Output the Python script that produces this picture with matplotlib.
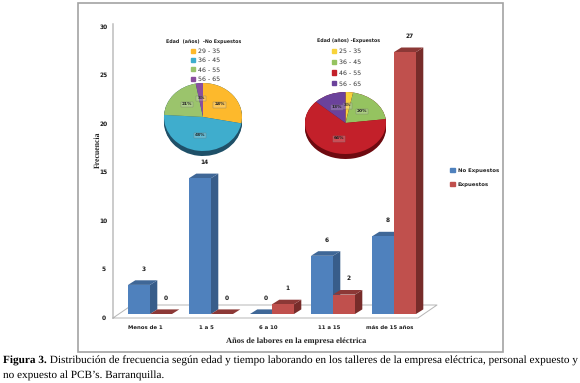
import matplotlib
matplotlib.use('Agg')
import matplotlib.pyplot as plt
from matplotlib.patches import Polygon, Rectangle

plt.rcParams['text.hinting'] = 'no_hinting'

W, H = 580, 383

categorias = ['Menos de 1', '1 a 5', '6 a 10', '11 a 15', 'más de 15 años']
no_expuestos = [3, 14, 0, 6, 8]
expuestos = [0, 0, 1, 2, 27]
y_ticks = [0, 5, 10, 15, 20, 25, 30]

edades_no = ['29 - 35', '36 - 45', '46 - 55', '56 - 65']
pct_no = [28, 48, 21, 3]
edades_exp = ['25 - 35', '36 - 45', '46 - 55', '56 - 65']
pct_exp = [3, 20, 64, 13]

titulo_pie_no = 'Edad  (años)  -No Expuestos'
titulo_pie_exp = 'Edad (años) -Expuestos'
caption_bold = 'Figura 3.'
caption_1 = ' Distribución de frecuencia según edad y tiempo laborando en los talleres de la empresa eléctrica, personal expuesto y'
caption_2 = 'no expuesto al PCB\u2019s. Barranquilla.'

SERIF = 'Liberation Serif'
GRIS = '#bdbdbd'


def px_axes(fig, x0, y0, x1, y1):
    # axes placed from pixel corners, y measured from the top of the image
    return fig.add_axes([x0 / W, 1 - y1 / H, (x1 - x0) / W, (y1 - y0) / H])


fig = plt.figure(figsize=(W / 100, H / 100), dpi=100)
fig.patch.set_facecolor('white')

# marco de la figura
fig.add_artist(Rectangle((78 / W, 1 - 352 / H), (503 - 78) / W, (352 - 3) / H, transform=fig.transFigure,
                         fill=False, edgecolor='#a3a3a3', linewidth=1.2))

# ejes principales: 61 px por categoria, 9.7 px por unidad
ax = px_axes(fig, 100, 14, 450, 330)
ax.set_xlim((100 - 150) / 61, (450 - 150) / 61)
ax.set_ylim(-16 / 9.7, 300 / 9.7)
ax.axis('off')

ux = 1 / 61
uy = 1 / 9.7
ancho = 22 * ux
dx, dy = 7.3 * ux, 4.6 * uy

# piso y pared
fx0, fx1 = (113 - 150) * ux, (418 - 150) * ux
fy = -4 * uy
bx0, bx1 = (132 - 150) * ux, (437 - 150) * ux
by = 9 * uy
ax.plot([fx0, fx0], [fy, 29.9], color=GRIS, lw=1.1)
ax.plot([fx0, bx0, bx1, fx1, fx0], [fy, by, by, fy, fy], color='#b5b5b5', lw=0.7)


def barra(x, v, frente, lado, tapa, orden):
    ax.add_patch(Polygon([(x + ancho, 0), (x + ancho + dx, dy), (x + ancho + dx, v + dy), (x + ancho, v)],
                         facecolor=lado, edgecolor='none', zorder=orden))
    ax.add_patch(Polygon([(x, v), (x + dx, v + dy), (x + ancho + dx, v + dy), (x + ancho, v)],
                         facecolor=tapa, edgecolor='none', zorder=orden))
    ax.bar(x, v, ancho, align='edge', color=frente, zorder=orden + 0.1)
    ax.annotate(str(v), (x + ancho / 2, v), xytext=(3.5, 11.5), textcoords='offset points',
                ha='center', va='center', fontsize=4.2, fontweight='bold', color='#1a1a1a', zorder=9)


for i, (a, b) in enumerate(zip(no_expuestos, expuestos)):
    barra(i - ancho, a, '#4f81bd', '#385d8a', '#3f6797', 3)
    barra(i, b, '#c0504d', '#772c2a', '#8c3836', 3)
    ax.annotate(categorias[i], (i, 0), xytext=(-3, -9.4), textcoords='offset points',
                ha='center', va='center', fontsize=3.9, fontweight='bold', color='#1a1a1a')

for t in y_ticks:
    ax.annotate(str(t), (fx0, t), xytext=(-7, -2.9), textcoords='offset points',
                ha='center', va='center', fontsize=4.2, fontweight='bold', color='#1a1a1a')

fig.text(98 / W, 1 - 150 / H, 'Frecuencia', rotation=90, ha='center', va='center',
         family=SERIF, fontsize=5.6, fontweight='bold', color='#222222')
fig.text(296 / W, 1 - 341 / H, 'Años de labores en la empresa eléctrica', ha='center', va='center',
         family=SERIF, fontsize=6.0, fontweight='bold', color='#222222')

# leyenda de las barras
h_leg = [Rectangle((0, 0), 1, 1, color='#4f81bd'), Rectangle((0, 0), 1, 1, color='#c0504d')]
fig.legend(h_leg, ['No Expuestos', 'Expuestos'], loc='center left', bbox_to_anchor=(450 / W, 1 - 177.5 / H),
           frameon=False, prop={'size': 3.9, 'weight': 'bold'}, handlelength=0.9, handleheight=0.9,
           handletextpad=0.5, labelspacing=1.6, borderpad=0, borderaxespad=0, labelcolor='#222222')


def pastel(cx, cy, rx, ry, prof, valores, colores, oscuro, etiquetas, titulo, tx, ty, ly, esp):
    # el pastel se aplasta dejando aspecto libre en sus ejes
    a = px_axes(fig, cx - rx, cy - ry, cx + rx, cy + ry + prof)
    for k in range(prof + 1):
        a.pie(valores, startangle=90, counterclock=False, radius=1, center=(0, -k / ry),
              colors=[oscuro] * len(valores), normalize=True)
    wedges, _, auto = a.pie(valores, startangle=90, counterclock=False, colors=colores, radius=1,
                            autopct=lambda p: '%d%%' % round(p), pctdistance=0.55,
                            textprops={'fontsize': 3.2, 'fontweight': 'bold', 'color': '#222222'})
    for t in auto:
        t.set_bbox(dict(facecolor=(1, 1, 1, 0.2), edgecolor='#777777', linewidth=0.25, pad=0.6))
    a.set_aspect('auto')
    a.set_xlim(-1, 1)
    a.set_ylim(-1 - prof / ry, 1)
    fig.text(tx / W, 1 - ty / H, titulo, ha='center', va='center', fontsize=3.4, fontweight='bold', color='#222222')
    h = [Rectangle((0, 0), 1, 1, color=c) for c in colores]
    fig.legend(h, etiquetas, loc='upper left', bbox_to_anchor=(ly[0] / W, 1 - ly[1] / H), frameon=False,
               prop={'size': 4.5}, handlelength=0.65, handleheight=0.65, handletextpad=0.5,
               labelspacing=esp, borderpad=0, borderaxespad=0, labelcolor='#333333')


pastel(203, 117, 39, 34, 5, pct_no, ['#fdb92c', '#3fadcd', '#9bc46c', '#8a4f9e'], '#1f5068', edades_no,
       titulo_pie_no, 204, 42, (191, 48.5), 0.55)
pastel(345.5, 123, 40.5, 31, 5, pct_exp, ['#f8d33a', '#95c360', '#c3202a', '#6b429b'], '#6e0a10', edades_exp,
       titulo_pie_exp, 349, 41, (332, 48.5), 0.8)

# pie de figura
renderer = fig.canvas.get_renderer()
t0 = fig.text(3 / W, 1 - 361 / H, caption_bold, family=SERIF, fontsize=8.13, fontweight='bold', va='center', color='black')
x1 = t0.get_window_extent(renderer).x1
fig.text(x1 / W, 1 - 361 / H, caption_1, family=SERIF, fontsize=8.13, va='center', color='black')
fig.text(3 / W, 1 - 375 / H, caption_2, family=SERIF, fontsize=8.13, va='center', color='black')

fig.savefig('out.png', dpi=100)
